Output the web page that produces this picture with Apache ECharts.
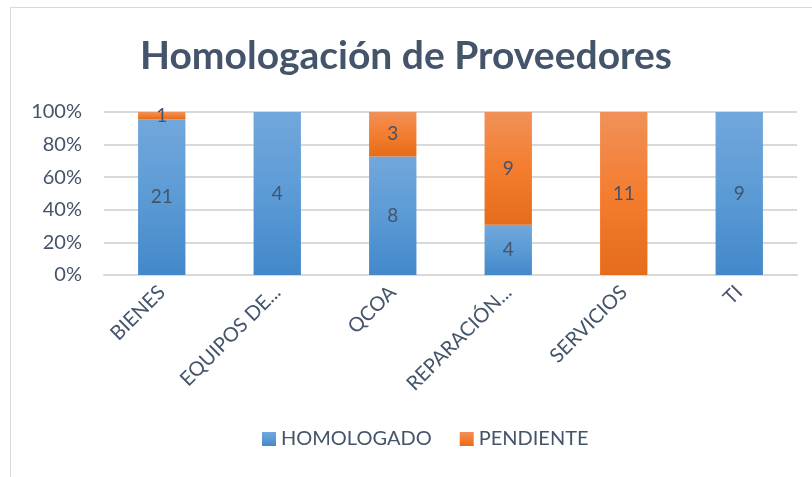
<!DOCTYPE html>
<html>
<head>
<meta charset="utf-8">
<script src="https://cdn.jsdelivr.net/npm/echarts@6/dist/echarts.min.js"></script>
<style>
  html, body { margin: 0; padding: 0; background: #fff; }
  #frame { position: absolute; left: 10px; top: 7px; width: 820px; height: 480px; border: 1px solid #d9d9d9; }
  #main { position: absolute; left: 0; top: 0; width: 812px; height: 477px; }
</style>
</head>
<body>
<div id="frame"></div>
<div id="main"></div>
<script>
// datos
var categorias = ['BIENES', 'EQUIPOS DE...', 'QCOA', 'REPARACIÓN...', 'SERVICIOS', 'TI'];
var homologado = [21, 4, 8, 4, 0, 9];
var pendiente = [1, 0, 3, 9, 11, 0];
var yTicks = [0, 20, 40, 60, 80, 100];

var textColor = '#44546a';
var fontName = 'Lato, "Open Sans", sans-serif';

// porcentaje de cada segmento sobre el total de la categoria
function pct(arr, i) {
  var total = homologado[i] + pendiente[i];
  return total ? arr[i] / total * 100 : 0;
}

function grad(top, mid, bottom) {
  return new echarts.graphic.LinearGradient(0, 0, 0, 1, [
    { offset: 0, color: top },
    { offset: 0.5, color: mid },
    { offset: 1, color: bottom }
  ]);
}
var azul = grad('#72a7dc', '#5b9bd5', '#4388ca');
var naranja = grad('#f09159', '#f47d2f', '#e46c1a');

function buildData(arr) {
  var out = [];
  for (let i = 0; i < arr.length; i++) {
    out.push({ value: pct(arr, i), raw: arr[i] });
  }
  return out;
}

var labelOpt = {
  show: true,
  position: 'inside',
  color: textColor,
  fontSize: 19,
  fontFamily: fontName,
  formatter: function (p) {
    return p.data.raw ? String(p.data.raw) : '';
  }
};

var chart = echarts.init(document.getElementById('main'));
var option = {
  animation: false,
  title: {
    text: 'Homologación de Proveedores',
    left: 'center',
    top: 32,
    textStyle: { color: textColor, fontSize: 39, fontWeight: 'bold', fontFamily: fontName }
  },
  legend: {
    bottom: 23,
    left: 257,
    itemWidth: 14,
    itemHeight: 14,
    itemGap: 28,
    icon: 'rect',
    textStyle: { color: textColor, fontSize: 20, fontFamily: fontName },
    data: ['HOMOLOGADO', 'PENDIENTE']
  },
  grid: { left: 104, right: 15, top: 112, bottom: 202 },
  xAxis: {
    type: 'category',
    data: categorias,
    axisLine: { show: true, lineStyle: { color: '#d9d9d9', width: 2 } },
    axisTick: { show: false },
    axisLabel: {
      rotate: 45,
      margin: 14,
      interval: 0,
      color: textColor,
      fontSize: 20,
      fontFamily: fontName
    }
  },
  yAxis: {
    type: 'value',
    min: yTicks[0],
    max: yTicks[yTicks.length - 1],
    interval: 20,
    axisLine: { show: false },
    axisTick: { show: false },
    splitLine: { lineStyle: { color: '#d9d9d9', width: 2 } },
    axisLabel: {
      margin: 22,
      color: textColor,
      fontSize: 20,
      fontFamily: fontName,
      formatter: '{value}%'
    }
  },
  series: [
    {
      name: 'HOMOLOGADO',
      type: 'bar',
      stack: 'total',
      barWidth: '41%',
      itemStyle: { color: azul },
      label: labelOpt,
      data: buildData(homologado)
    },
    {
      name: 'PENDIENTE',
      type: 'bar',
      stack: 'total',
      barWidth: '41%',
      itemStyle: { color: naranja },
      label: labelOpt,
      data: buildData(pendiente)
    }
  ]
};
option && chart.setOption(option);
</script>
</body>
</html>
